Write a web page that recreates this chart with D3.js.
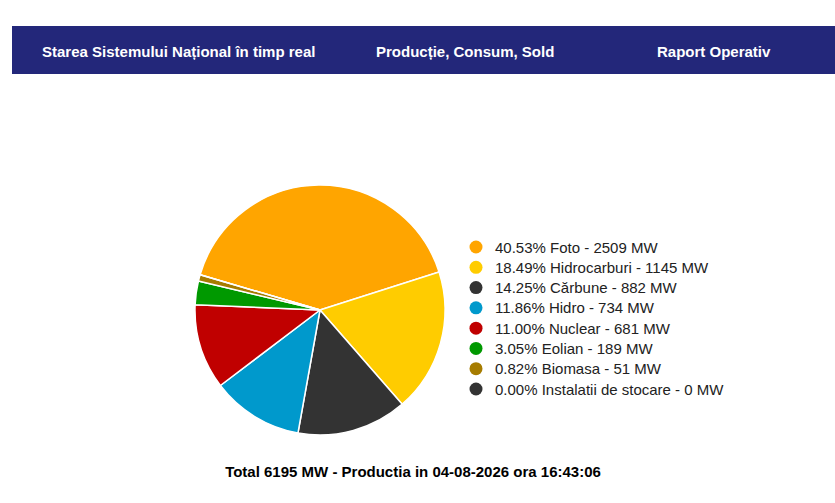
<!DOCTYPE html>
<html><head><meta charset="utf-8">
<script src="https://cdn.jsdelivr.net/npm/d3@7"></script>
<style>
html,body{margin:0;padding:0;background:#fff;}
svg{display:block;font-family:"Liberation Sans",Arial,sans-serif;}
</style></head>
<body><svg id="c" width="835" height="503"></svg>
<script>
const menuItems = ["Starea Sistemului Național în timp real", "Producție, Consum, Sold", "Raport Operativ"];
const categories = ["Foto", "Hidrocarburi", "Cărbune", "Hidro", "Nuclear", "Eolian", "Biomasa", "Instalatii de stocare"];
const values = [2509, 1145, 882, 734, 681, 189, 51, 0];
const colors = ["#ffa500", "#ffcc00", "#333333", "#0099cc", "#c00000", "#009900", "#a67c00", "#333333"];
const footerText = "Total 6195 MW - Productia in 04-08-2026 ora 16:43:06";

const svg = d3.select("#c");
// header band
svg.append("rect").attr("x",12).attr("y",26).attr("width",823).attr("height",48).attr("fill","#23277a");
const menuX = [42, 376, 657];
menuItems.forEach((t,i)=>{
  svg.append("text").attr("x",menuX[i]).attr("y",56.5).attr("fill","#fff")
    .attr("font-weight","bold").attr("font-size",15).text(t);
});

const total = d3.sum(values);
const cx = 320, cy = 310, r = 125;
const pie = d3.pie().sort(null).value(d=>d)
  .startAngle(-73.6*Math.PI/180).endAngle(-73.6*Math.PI/180 + 2*Math.PI);
const arc = d3.arc().innerRadius(0).outerRadius(r);
const g = svg.append("g").attr("transform",`translate(${cx},${cy})`);
g.selectAll("path").data(pie(values)).join("path")
  .attr("d",arc).attr("fill",(d,i)=>colors[i])
  .attr("stroke","#fff").attr("stroke-width",1.5).attr("stroke-linejoin","round");

// legend
const ly = d3.scalePoint().domain(d3.range(categories.length)).range([247, 389]);
const lg = svg.append("g");
categories.forEach((c,i)=>{
  const pct = (values[i]/total*100).toFixed(2);
  lg.append("circle").attr("cx",476).attr("cy",ly(i)).attr("r",6.5).attr("fill",colors[i]);
  lg.append("text").attr("x",495).attr("y",ly(i)+5.5).attr("font-size",15).attr("fill","#222")
    .text(`${pct}% ${c} - ${values[i]} MW`);
});

svg.append("text").attr("x",413).attr("y",476.5).attr("text-anchor","middle")
  .attr("font-weight","bold").attr("font-size",15).attr("fill","#000").text(footerText);
</script></body></html>
